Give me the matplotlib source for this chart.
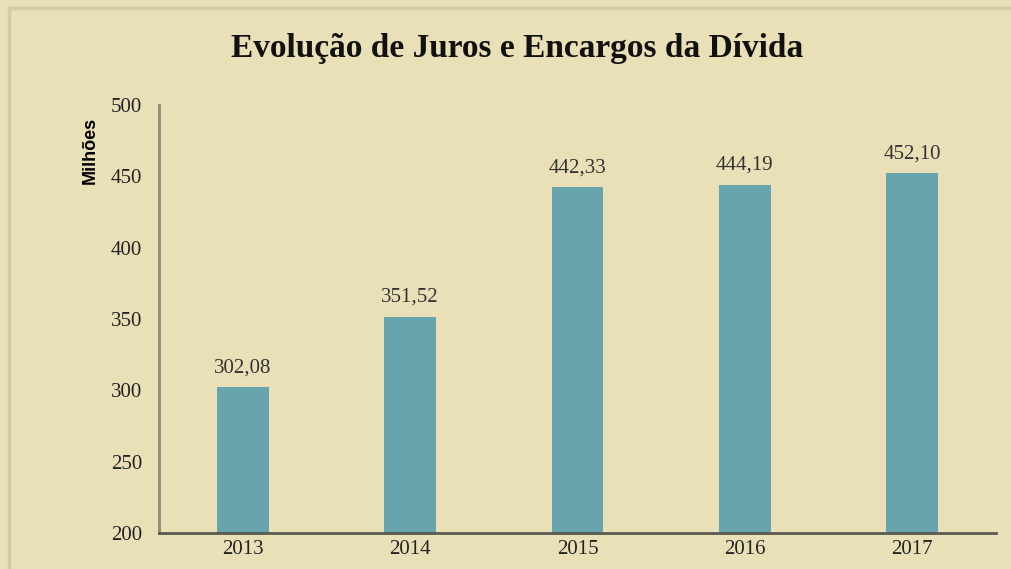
import matplotlib.pyplot as plt
from matplotlib.patches import Rectangle

# data
anos = ['2013', '2014', '2015', '2016', '2017']
valores = [302.08, 351.52, 442.33, 444.19, 452.10]
rotulos = ['302,08', '351,52', '442,33', '444,19', '452,10']
yticks = [200, 250, 300, 350, 400, 450, 500]

bg = '#E9E0B7'
bar_color = '#67A4AD'

fig = plt.figure(figsize=(10.12, 5.69), dpi=100)
fig.patch.set_facecolor(bg)

# faint frame of the pasted slide
fig.add_artist(Rectangle((9 / 1012, -0.1), 1.2, (569 - 8) / 569 + 0.1,
                         transform=fig.transFigure, fill=False,
                         edgecolor='#D6CCA2', linewidth=2.5))

ax = fig.add_axes([159 / 1012, 36 / 569, 837 / 1012, 428 / 569])
ax.set_facecolor(bg)

x = list(range(len(anos)))
ax.bar(x, valores, width=0.31, color=bar_color, bottom=0)
ax.set_ylim(200, 500)
ax.set_xlim(-0.5, 4.5)

for xi, v, lab in zip(x, valores, rotulos):
    ax.text(xi, v + 7, lab, ha='center', va='bottom', fontsize=15,
            family='Liberation Serif', color='#333333')

ax.set_yticks(yticks)
ax.set_yticklabels([str(t) for t in yticks], family='Liberation Serif',
                   fontsize=15, color='#222222')
ax.set_xticks(x)
ax.set_xticklabels(anos, family='Liberation Serif', fontsize=15, color='#222222')
ax.tick_params(axis='both', length=0)
ax.tick_params(axis='y', pad=12)
ax.tick_params(axis='x', pad=5)

for s in ['top', 'right']:
    ax.spines[s].set_visible(False)
ax.spines['left'].set_color('#8E8A78')
ax.spines['left'].set_linewidth(2)
ax.spines['bottom'].set_color('#5A5A50')
ax.spines['bottom'].set_linewidth(2)

fig.text(90 / 1012, 1 - 150 / 569, 'Milhões', rotation=90, ha='center',
         va='center', fontsize=13, fontweight='bold', family='Liberation Sans')

fig.text(517 / 1012, 1 - 48 / 569, 'Evolução de Juros e Encargos da Dívida',
         ha='center', va='center', fontsize=24, fontweight='bold',
         family='Liberation Serif', color='#111111')

fig.savefig('out.png', dpi=100, facecolor=bg)
